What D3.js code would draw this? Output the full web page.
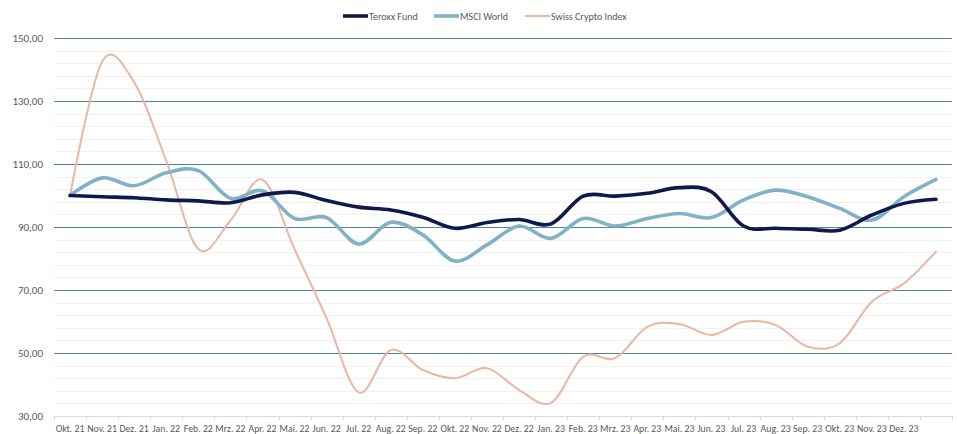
<!DOCTYPE html>
<html>
<head>
<meta charset="utf-8">
<script src="https://cdn.jsdelivr.net/npm/d3@7"></script>
<style>
  body { margin: 0; background: #fff; }
  svg { font-family: Carlito, Calibri, Lato, sans-serif; }
</style>
</head>
<body>
<svg id="chart" width="957" height="434"></svg>
<script>
// months (last category has no label in the original)
var months = ["Okt. 21","Nov. 21","Dez. 21","Jan. 22","Feb. 22","Mrz. 22","Apr. 22","Mai. 22","Jun. 22",
  "Jul. 22","Aug. 22","Sep. 22","Okt. 22","Nov. 22","Dez. 22","Jan. 23","Feb. 23","Mrz. 23","Apr. 23",
  "Mai. 23","Jun. 23","Jul. 23","Aug. 23","Sep. 23","Okt. 23","Nov. 23","Dez. 23",""];

var teroxx = [100,99.6,99.3,98.6,98.3,97.7,100.2,101,98.4,96.3,95.4,93.1,89.6,91.4,92.4,91,99.8,99.8,
  100.7,102.5,101.2,90.3,89.6,89.3,89,93.8,97.5,98.8];
var msci = [100,105.6,103.1,107.2,107.9,99.1,101.5,92.7,93,84.6,91.5,87.5,79.2,84.3,90.3,86.4,92.7,90.3,
  92.7,94.3,93,98.6,101.7,99.6,95.9,92.2,99.6,105.1];
var swiss = [100,142.5,136,111,83,92,105,83,61,37.5,51,44.6,42,45.2,38.3,34.2,48.8,48.4,
  58.3,59.2,55.7,59.9,58.9,52,53.1,66.3,72.1,82.2];

var yTicks = [30,50,70,90,110,130,150];

var series = [
  {name: "Teroxx Fund", values: teroxx, color: "#0f1a4b", width: 3.6},
  {name: "MSCI World", values: msci, color: "#80b2c6", width: 3.6},
  {name: "Swiss Crypto Index", values: swiss, color: "#ebb6a2", width: 2}
];

var svg = d3.select("#chart");
var plotL = 54, plotR = 952, plotT = 38, plotB = 416;

var x = d3.scaleBand().domain(d3.range(months.length)).range([plotL, plotR]).padding(0);
var y = d3.scaleLinear().domain([30, 150]).range([plotB, plotT]);

// minor gridlines
svg.append("g").selectAll("line")
  .data(d3.range(34, 150, 4).filter(function(d){ return (d - 30) % 20 != 0; }))
  .enter().append("line")
  .attr("x1", plotL).attr("x2", plotR)
  .attr("y1", function(d){ return Math.round(y(d)) + 0.5; })
  .attr("y2", function(d){ return Math.round(y(d)) + 0.5; })
  .attr("stroke", "#f1f1f1").attr("stroke-width", 1);

// major gridlines
svg.append("g").selectAll("line")
  .data(yTicks.slice(1))
  .enter().append("line")
  .attr("x1", plotL).attr("x2", plotR)
  .attr("y1", function(d){ return Math.round(y(d)) + 0.5; })
  .attr("y2", function(d){ return Math.round(y(d)) + 0.5; })
  .attr("stroke", "#4b8797").attr("stroke-width", 1);

// y axis labels
var yAxis = d3.axisLeft(y).tickValues(yTicks).tickSize(0).tickPadding(11)
  .tickFormat(function(d){ return d3.format(".2f")(d).replace(".", ","); });
var gy = svg.append("g").attr("transform", "translate(" + plotL + ",0)").call(yAxis);
gy.select(".domain").remove();
gy.selectAll("text").attr("fill", "#595959").style("font-size", "11px")
  .style("font-family", "Carlito, Calibri, Lato, sans-serif");

// x axis line and ticks between categories
svg.append("line").attr("x1", plotL).attr("x2", plotR)
  .attr("y1", plotB + 0.5).attr("y2", plotB + 0.5).attr("stroke", "#d9d9d9");
var bounds = d3.range(months.length).map(function(i){ return x(i); }).concat([x.range()[1]]);
svg.append("g").selectAll("line").data(bounds).enter().append("line")
  .attr("x1", function(d){ return Math.round(d) + 0.5; })
  .attr("x2", function(d){ return Math.round(d) + 0.5; })
  .attr("y1", plotB).attr("y2", plotB + 4)
  .attr("stroke", "#d9d9d9");

var xAxis = d3.axisBottom(x).tickSize(0).tickPadding(9).tickFormat(function(i){ return months[i]; });
var gx = svg.append("g").attr("transform", "translate(0," + plotB + ")").call(xAxis);
gx.select(".domain").remove();
gx.selectAll("text").attr("fill", "#595959").style("font-size", "9.8px")
  .style("font-family", "Carlito, Calibri, Lato, sans-serif");

// lines
var line = d3.line()
  .x(function(d, i){ return x(i) + x.bandwidth() / 2; })
  .y(function(d){ return y(d); })
  .curve(d3.curveCatmullRom.alpha(0));

// draw swiss first so the thicker lines sit on top like the original
[series[2], series[1], series[0]].forEach(function(s){
  svg.append("path").datum(s.values)
    .attr("d", line)
    .attr("fill", "none")
    .attr("stroke", s.color)
    .attr("stroke-width", s.width)
    .attr("stroke-linejoin", "round")
    .attr("stroke-linecap", "round");
});

// legend
var legendX = [343, 434, 525];
var lg = svg.append("g").selectAll("g").data(series).enter().append("g")
  .attr("transform", function(d, i){ return "translate(" + legendX[i] + ",16)"; });
lg.append("line").attr("x1", 0).attr("x2", 25).attr("y1", 0).attr("y2", 0)
  .attr("stroke", function(d){ return d.color; })
  .attr("stroke-width", function(d){ return d.width; });
lg.append("text").attr("x", 26).attr("y", 0).attr("dy", "0.35em")
  .attr("fill", "#595959").style("font-size", "10px")
  .text(function(d){ return d.name; });
</script>
</body>
</html>
